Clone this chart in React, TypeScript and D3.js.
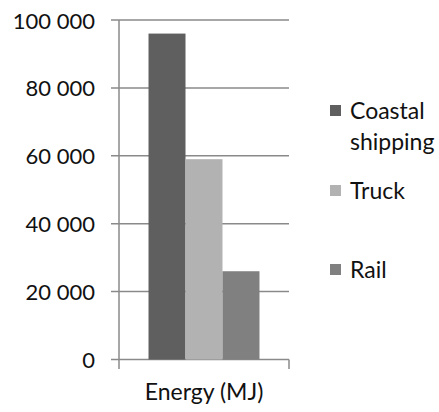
import React from "react";
import * as d3 from "d3";

const categories = ["Energy (MJ)"];
const seriesNames = ["Coastal shipping", "Truck", "Rail"];
const seriesValues = [96000, 59000, 26000];
const seriesColors = ["#5f5f5f", "#b2b2b2", "#808080"];
const yTicks = [0, 20000, 40000, 60000, 80000, 100000];
const legendLines = [["Coastal", "shipping"], ["Truck"], ["Rail"]];

const W = 439;
const H = 412;
const plot = { left: 119, right: 289, top: 20, bottom: 359.5 };
const FONT = "Lato, 'Open Sans', sans-serif";
const TEXT = "#111";
const GRID = "#8a8a8a";

export default function App() {
  const y = d3.scaleLinear().domain([0, 100000]).range([plot.bottom, plot.top]);
  const x0 = d3
    .scaleBand<string>()
    .domain(categories)
    .range([plot.left, plot.right])
    .paddingOuter(0.266)
    .paddingInner(0);
  const x1 = d3
    .scaleBand<string>()
    .domain(seriesNames)
    .range([0, x0.bandwidth()])
    .padding(0);
  const fmt = (v: number) => d3.format(",")(v).replace(/,/g, " ");

  return (
    <svg
      width={W}
      height={H}
      style={{ position: "absolute", left: 0, top: 0, background: "#fff" }}
      fontFamily={FONT}
    >
      {yTicks.map((t) => (
        <g key={t}>
          <line x1={111} x2={plot.right} y1={y(t)} y2={y(t)} stroke={GRID} strokeWidth={1.5} />
          <text
            x={95}
            y={y(t)}
            textAnchor="end"
            dominantBaseline="central"
            fontSize={22}
            fill={TEXT}
          >
            {fmt(t)}
          </text>
        </g>
      ))}
      <line x1={plot.left} x2={plot.left} y1={plot.top} y2={369} stroke={GRID} strokeWidth={1.5} />
      <line x1={plot.right} x2={plot.right} y1={plot.bottom} y2={369} stroke={GRID} strokeWidth={1.5} />
      {categories.map((c) => (
        <g key={c} transform={`translate(${x0(c)},0)`}>
          {seriesNames.map((s, i) => (
            <rect
              key={s}
              x={x1(s)}
              y={y(seriesValues[i])}
              width={x1.bandwidth()}
              height={y(0) - y(seriesValues[i])}
              fill={seriesColors[i]}
            />
          ))}
          <text
            x={x0.bandwidth() / 2}
            y={400}
            textAnchor="middle"
            fontSize={23}
            fill={TEXT}
          >
            {c}
          </text>
        </g>
      ))}
      {seriesNames.map((s, i) => {
        const baseY = [119, 199, 278][i];
        return (
          <g key={s}>
            <rect x={330} y={baseY - 14} width={11} height={11} fill={seriesColors[i]} />
            <text x={350} y={baseY} fontSize={23} fill={TEXT}>
              {legendLines[i].map((ln, j) => (
                <tspan key={ln} x={350} dy={j === 0 ? 0 : 31}>
                  {ln}
                </tspan>
              ))}
            </text>
          </g>
        );
      })}
    </svg>
  );
}
